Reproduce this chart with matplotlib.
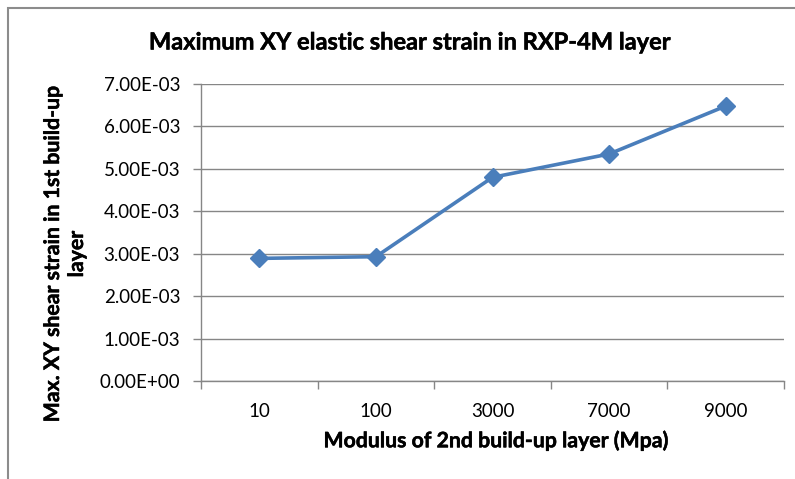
import matplotlib.pyplot as plt
import matplotlib.patheffects as pe
from matplotlib.patches import Rectangle
from matplotlib.ticker import FixedLocator, FuncFormatter

# modulus of the 2nd build-up layer and the peak XY shear strain
moduli = ["10", "100", "3000", "7000", "9000"]
strain = [2.89e-3, 2.93e-3, 4.80e-3, 5.35e-3, 6.48e-3]
y_ticks = [0, 1e-3, 2e-3, 3e-3, 4e-3, 5e-3, 6e-3, 7e-3]
y_title = ["Max. XY shear strain in 1st build-up", "layer"]

plt.rcParams['font.family'] = ['Lato', 'DejaVu Sans']

W, H = 795, 479
fig = plt.figure(figsize=(W / 100, H / 100), dpi=100)

# chart-area frame, running off the right and bottom edges
fig.patches.append(Rectangle((8 / W, -0.1), 1.2, 1 - 8 / H + 0.1,
                             transform=fig.transFigure, fill=False,
                             edgecolor='#8c8c8c', linewidth=1.5))

ax = fig.add_axes([201 / W, 1 - 381 / H, (784 - 201) / W, (381 - 84) / H])

grid_col = '#868686'
x = [i + 0.5 for i in range(len(moduli))]
ax.plot(x, strain, color='#4a7ebb', linewidth=2.6, marker='D',
        markersize=9, markerfacecolor='#4a7ebb', markeredgecolor='#4a7ebb',
        zorder=3)

ax.set_xlim(0, len(moduli))
ax.set_ylim(0, 7e-3)
ax.yaxis.set_major_locator(FixedLocator(y_ticks))
ax.yaxis.set_major_formatter(FuncFormatter(lambda v, p: f"{v:.2E}"))
ax.grid(axis='y', color=grid_col, linewidth=1)
ax.set_axisbelow(True)

# category boundaries get tick marks, labels sit in between
ax.xaxis.set_major_locator(FixedLocator(range(len(moduli) + 1)))
ax.xaxis.set_major_formatter(FuncFormatter(lambda v, p: ""))
ax.xaxis.set_minor_locator(FixedLocator(x))
ax.set_xticklabels(moduli, minor=True)
ax.tick_params(axis='x', which='major', direction='out', length=6,
               color=grid_col, width=1)
ax.tick_params(axis='x', which='minor', length=0, pad=16, labelsize=13.5)
ax.tick_params(axis='y', direction='out', length=6, color=grid_col,
               width=1, pad=9, labelsize=13.5)

for side in ['top', 'right']:
    ax.spines[side].set_visible(False)
for side in ['left', 'bottom']:
    ax.spines[side].set_color(grid_col)
    ax.spines[side].set_linewidth(1)

# bold face thickened slightly with a thin outline
heavy = dict(fontweight='bold',
             path_effects=[pe.withStroke(linewidth=0.35, foreground='black')])

fig.text(496 / W, 1 - 441 / H, "Modulus of 2nd build-up layer (Mpa)",
         ha='center', va='center', fontsize=15.3, **heavy)

for xpix, line in zip([53, 77], y_title):
    fig.text(xpix / W, 1 - 254 / H, line, rotation=90,
             ha='center', va='center', fontsize=15.3, **heavy)

fig.text(410 / W, 1 - 42 / H, "Maximum XY elastic shear strain in RXP-4M layer",
         ha='center', va='center', fontsize=17, **heavy)

fig.savefig("out.png", dpi=100)
